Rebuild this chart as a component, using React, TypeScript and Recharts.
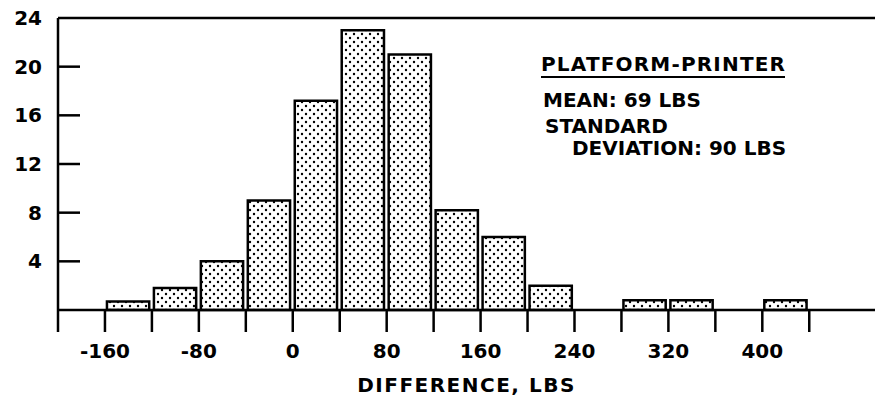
import { ComposedChart, Bar, XAxis, YAxis, ReferenceLine, Label } from 'recharts'

// histogram bins, 40 lbs wide, named by their left edge
const binStart = [-160, -120, -80, -40, 0, 40, 80, 120, 160, 200, 240, 280, 320, 360, 400]
const binCount = [0.7, 1.8, 4.0, 9.0, 17.2, 23.0, 21.0, 8.2, 6.0, 2.0, 0, 0.8, 0.8, 0, 0.8]
const xTicks = [-200, -160, -120, -80, -40, 0, 40, 80, 120, 160, 200, 240, 280, 320, 360, 400, 440]
const yTicks = [4, 8, 12, 16, 20, 24]
const noteTitle = 'PLATFORM-PRINTER'
const noteLines = ['MEAN: 69 LBS', 'STANDARD', 'DEVIATION: 90 LBS']

const W = 875
const H = 402
const FONT = '"DejaVu Sans", sans-serif'
const X_MIN = -200
const X_MAX = 496
const Y_MAX = 24
const Y_AXIS_W = 58
const TOP = 18
const X_AXIS_H = 92
const binWidth = 40
const TICK_MARGIN = 16

const data = binStart.map((s, i) => ({ mid: s + binWidth / 2, count: binCount[i] }))

// label outside the axis, short tick mark pointing into the plot
function YTick(props: any) {
  const tx = Number(props.x)
  const ty = Number(props.y)
  const value = props.payload.value
  const axisX = tx + TICK_MARGIN
  return (
    <g>
      {value !== Y_MAX && (
        <path d={`M${axisX},${ty}H${axisX + 22}`} stroke="#000" strokeWidth={2.5} fill="none" />
      )}
      <text x={tx} y={ty + 7} textAnchor="end" fontFamily={FONT} fontWeight={700} fontSize={20} fill="#000">
        {value}
      </text>
    </g>
  )
}

export default function App() {
  const plotW = W - Y_AXIS_W
  const barW = (binWidth * plotW) / (X_MAX - X_MIN)
  const txt = { fontFamily: FONT, fontWeight: 700, fontSize: 20, fill: '#000' }
  return (
    <div style={{ position: 'absolute', left: 0, top: 0, background: '#fff' }}>
      <ComposedChart width={W} height={H} data={data} margin={{ top: TOP, right: 0, bottom: 0, left: 0 }}>
        <defs>
          <pattern id="dots" width="8" height="8" patternUnits="userSpaceOnUse">
            <rect width="8" height="8" fill="#fff" />
            <circle cx="2" cy="2" r="1.2" fill="#000" />
            <circle cx="6" cy="6" r="1.2" fill="#000" />
          </pattern>
        </defs>
        <XAxis
          type="number"
          dataKey="mid"
          domain={[X_MIN, X_MAX]}
          ticks={xTicks}
          interval={0}
          allowDataOverflow
          height={X_AXIS_H}
          stroke="#000"
          strokeWidth={2.5}
          tickSize={22}
          tickMargin={12}
          tickFormatter={(v: number) => (v % 80 === 0 ? String(v) : '')}
          tick={txt}
        >
          <Label
            value="DIFFERENCE, LBS"
            position="insideBottom"
            offset={10}
            style={{ ...txt, letterSpacing: 1.5 }}
          />
        </XAxis>
        <YAxis
          type="number"
          domain={[0, Y_MAX]}
          ticks={yTicks}
          interval={0}
          width={Y_AXIS_W}
          stroke="#000"
          strokeWidth={2.5}
          tickLine={false}
          tickSize={0}
          tickMargin={TICK_MARGIN}
          tick={<YTick />}
        />
        <ReferenceLine y={Y_MAX} stroke="#000" strokeWidth={2.5} />
        <Bar
          dataKey="count"
          fill="url(#dots)"
          stroke="#000"
          strokeWidth={2.5}
          barSize={barW}
          isAnimationActive={false}
        />
        <g>
          <text x={541} y={71} {...txt} textLength={244} lengthAdjust="spacing">{noteTitle}</text>
          <line x1={541} x2={785} y1={77} y2={77} stroke="#000" strokeWidth={2} />
          <text x={543} y={107} {...txt}>{noteLines[0]}</text>
          <text x={545} y={133} {...txt}>{noteLines[1]}</text>
          <text x={572} y={155} {...txt}>{noteLines[2]}</text>
        </g>
      </ComposedChart>
    </div>
  )
}
